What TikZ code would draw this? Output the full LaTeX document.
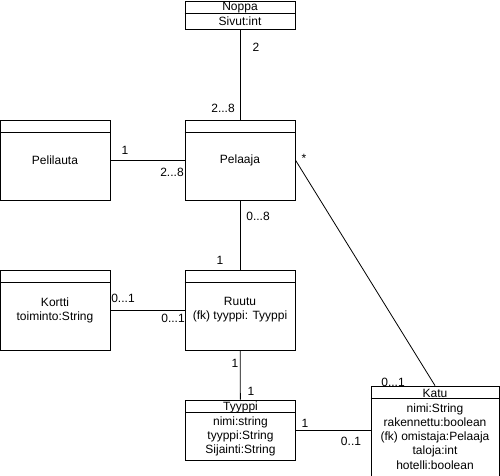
\documentclass[tikz,border=0pt]{standalone}
\usepackage{fontspec}
\setmainfont{Liberation Sans}
\usepackage{tikz}

\tikzset{
	classbox/.style={draw=black, line width=0.8pt, rectangle, inner sep=0pt, minimum width=110pt, align=center, font=\fontsize{12}{14}\selectfont},
	mult/.style={inner sep=0pt, font=\fontsize{12}{14}\selectfont},
	assoc/.style={draw=black, line width=0.8pt}
}

\begin{document}
\begin{tikzpicture}[x=1pt, y=-1pt]
	\clip (0,0) rectangle (500,475);
	\fill[white] (0,0) rectangle (500,475);

	%classes
	\node[classbox, minimum height=28pt] (noppa) at (240,15) {};
	\node[classbox, minimum height=80pt] (pelilauta) at (55,160) {Pelilauta};
	\node[classbox, minimum height=80pt] (pelaaja) at (240,160) {Pelaaja};
	\node[classbox, minimum height=80pt] (kortti) at (55,310) {Kortti\\toiminto:String};
	\node[classbox, minimum height=80pt] (ruutu) at (240,310) {Ruutu\\(fk) tyyppi: Tyyppi};
	\node[classbox, minimum height=60pt] (tyyppi) at (240.5,430) {};
	\node[classbox, minimum width=128pt, minimum height=100pt] (katu) at (435,436) {};

	%header lines
	\foreach \c in {noppa, pelilauta, pelaaja, kortti, ruutu, tyyppi, katu}
		\draw[line width=0.8pt] ([yshift=-13pt]\c.north west) -- ([yshift=-13pt]\c.north east);

	%titles and attributes
	\node[mult] (nopname) at (240,8) {Noppa};
	\node[mult] (nopattr) at (240,21) {Sivut:int};
	\node[mult] (tyyname) at (240.5,407) {Tyyppi};
	\node[mult, align=center] (tyyattr) at (240.5,436) {nimi:string\\tyyppi:String\\Sijainti:String};
	\node[mult] (katname) at (435,393) {Katu};
	\node[mult, align=center, font=\fontsize{12}{14.1}\selectfont] (katattr) at (435,436.5) {nimi:String\\rakennettu:boolean\\(fk) omistaja:Pelaaja\\taloja:int\\hotelli:boolean};

	%associations
	\draw[assoc] (noppa) -- (pelaaja);
	\draw[assoc] (pelilauta) -- (pelaaja);
	\draw[assoc] (pelaaja) -- (ruutu);
	\draw[assoc] (kortti) -- (ruutu);
	\draw[assoc] (ruutu) -- (tyyppi);
	\draw[assoc] (tyyppi.east) -- (tyyppi.east -| katu.west);
	\draw[assoc] (pelaaja.east) -- (katu.north);

	%multiplicities
	\node[mult] (m1) at (256,47) {2};
	\node[mult] (m2) at (223,108) {2...8};
	\node[mult] (m3) at (125,150) {1};
	\node[mult] (m4) at (172,172) {2...8};
	\node[mult] (m5) at (304,158) {*};
	\node[mult] (m6) at (258,216) {0...8};
	\node[mult] (m7) at (220,260) {1};
	\node[mult] (m8) at (123,298) {0...1};
	\node[mult] (m9) at (173,318) {0...1};
	\node[mult] (m10) at (235,363) {1};
	\node[mult] (m11) at (251,391) {1};
	\node[mult] (m12) at (305,423) {1};
	\node[mult] (m13) at (351,441) {0..1};
	\node[mult] (m14) at (393,382) {0...1};
\end{tikzpicture}
\end{document}
